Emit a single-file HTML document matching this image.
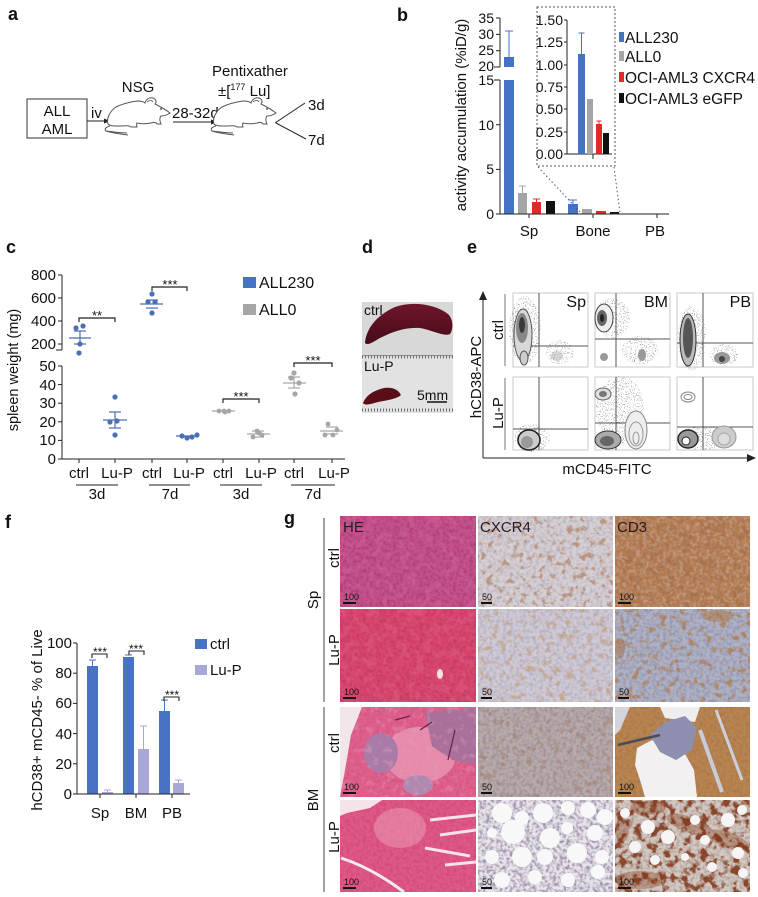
<!DOCTYPE html>
<html><head><meta charset="utf-8"><style>
html,body{margin:0;padding:0;background:#fff;}
svg{display:block;font-family:"Liberation Sans",Arial,sans-serif;}
</style></head><body>
<svg width="758" height="897" viewBox="0 0 758 897" xmlns="http://www.w3.org/2000/svg">
<defs>
<filter id="fine" color-interpolation-filters="sRGB" x="0" y="0" width="1" height="1">
<feTurbulence type="fractalNoise" baseFrequency="0.3" numOctaves="2" seed="3" result="n"/>
<feColorMatrix in="n" type="matrix" values="0 0 0 0 0 0 0 0 0 0 0 0 0 0 0 3 0 0 0 -1.2" result="m"/>
<feComposite in="SourceGraphic" in2="m" operator="in"/>
</filter>
<filter id="spots" color-interpolation-filters="sRGB" x="0" y="0" width="1" height="1">
<feTurbulence type="fractalNoise" baseFrequency="0.15" numOctaves="3" seed="7" result="n"/>
<feColorMatrix in="n" type="matrix" values="0 0 0 0 0 0 0 0 0 0 0 0 0 0 0 6 0 0 0 -3.3" result="m"/>
<feComposite in="SourceGraphic" in2="m" operator="in"/>
</filter>
<filter id="spots2" color-interpolation-filters="sRGB" x="0" y="0" width="1" height="1">
<feTurbulence type="fractalNoise" baseFrequency="0.12" numOctaves="3" seed="21" result="n"/>
<feColorMatrix in="n" type="matrix" values="0 0 0 0 0 0 0 0 0 0 0 0 0 0 0 6 0 0 0 -2.9" result="m"/>
<feComposite in="SourceGraphic" in2="m" operator="in"/>
</filter>
<filter id="dots" color-interpolation-filters="sRGB" x="0" y="0" width="1" height="1">
<feTurbulence type="fractalNoise" baseFrequency="0.9" numOctaves="1" seed="5" result="n"/>
<feColorMatrix in="n" type="matrix" values="0 0 0 0 0 0 0 0 0 0 0 0 0 0 0 12 0 0 0 -7" result="m"/>
<feComposite in="SourceGraphic" in2="m" operator="in"/>
</filter>
<clipPath id="c13"><rect x="340" y="707" width="136" height="90"/></clipPath>
<clipPath id="c33"><rect x="615" y="707" width="135" height="90"/></clipPath>
<clipPath id="c14"><rect x="340" y="800" width="136" height="92"/></clipPath>
<clipPath id="c24"><rect x="478" y="800" width="135" height="92"/></clipPath>
<clipPath id="c34"><rect x="615" y="800" width="135" height="92"/></clipPath>
<clipPath id="c32"><rect x="615" y="609" width="135" height="93"/></clipPath>
<linearGradient id="spl" x1="0" y1="0" x2="0" y2="1"><stop offset="0" stop-color="#6e1629"/><stop offset="1" stop-color="#470a19"/></linearGradient>
<g id="mouse">
<path d="M4,27 C2,22 6,14 12,10 C18,7 26,5 33,4 C37,4 40,5 41,6 C42,2 46,0 49,1 C52,2 53,5 51,7 C55,9 61,12 66,16 C63,18 60,19 57,19 C55,21 56,25 57,27 L53,27 C52,25 50,25 47,26 C42,27 37,27 33,26 C32,28 33,29 33,30 L27,30 C25,28 22,29 15,29 C9,29 6,29 4,27 Z" fill="#fff" stroke="#555" stroke-width="1"/>
<path d="M43,5 C45,3 48,3 49,5" fill="none" stroke="#555" stroke-width="0.8"/>
<circle cx="57" cy="12" r="0.9" fill="#333"/>
<path d="M6,29 C2,30 0,32 2,34 C8,36 16,37 24,38 M2,34 C10,35 16,36 23,36" fill="none" stroke="#555" stroke-width="1"/>
</g>
</defs>
<rect width="758" height="897" fill="#fff"/>

<!-- Panel letters -->
<g font-weight="bold" font-size="18" fill="#111">
<text x="8" y="20">a</text>
<text x="397" y="21">b</text>
<text x="6" y="253">c</text>
<text x="362" y="253">d</text>
<text x="467" y="253">e</text>
<text x="5" y="528">f</text>
<text x="284" y="524">g</text>
</g>

<!-- Panel a -->
<g font-size="15" fill="#111">
<rect x="27" y="99" width="60" height="39" fill="none" stroke="#333" stroke-width="1"/>
<text x="57" y="116" text-anchor="middle">ALL</text>
<text x="57" y="134" text-anchor="middle">AML</text>
<text x="91" y="118">iv</text>
<line x1="87" y1="121" x2="105" y2="121" stroke="#222" stroke-width="1"/>
<polygon points="110,121 104,118.5 104,123.5" fill="#222"/>
<use href="#mouse" x="104" y="97"/>
<text x="138" y="92" text-anchor="middle">NSG</text>
<text x="172" y="118">28-32d</text>
<line x1="173" y1="122" x2="212" y2="122" stroke="#222" stroke-width="1"/>
<polygon points="217,122 211,119.5 211,124.5" fill="#222"/>
<use href="#mouse" x="210" y="97"/>
<text x="250" y="76" text-anchor="middle">Pentixather</text>
<text x="218" y="96">±[<tspan font-size="9" dy="-6">177</tspan><tspan dy="6"> Lu]</tspan></text>
<line x1="275" y1="123" x2="305" y2="103" stroke="#222" stroke-width="1"/>
<line x1="276" y1="123" x2="306" y2="139" stroke="#222" stroke-width="1"/>
<text x="308" y="110">3d</text>
<text x="308" y="145">7d</text>
</g>

<!-- Panel b -->
<g font-size="14" fill="#111" stroke-width="1">
<line x1="500" y1="18" x2="500" y2="67" stroke="#222"/>
<line x1="500" y1="80" x2="500" y2="214" stroke="#222"/>
<g stroke="#222">
<line x1="496" y1="18" x2="500" y2="18"/><line x1="496" y1="34.4" x2="500" y2="34.4"/>
<line x1="496" y1="50.7" x2="500" y2="50.7"/><line x1="494" y1="67" x2="500" y2="67"/>
<line x1="494" y1="80" x2="500" y2="80"/><line x1="496" y1="124.7" x2="500" y2="124.7"/>
<line x1="496" y1="169.4" x2="500" y2="169.4"/><line x1="496" y1="214" x2="500" y2="214"/>
</g>
<g text-anchor="end">
<text x="494" y="23">35</text><text x="494" y="39">30</text><text x="494" y="55">25</text>
<text x="494" y="71">20</text><text x="494" y="85">15</text><text x="494" y="130">10</text>
<text x="494" y="174">5</text><text x="494" y="219">0</text>
</g>
<text transform="translate(466,115) rotate(-90)" text-anchor="middle" font-size="15">activity accumulation (%iD/g)</text>
<rect x="504" y="80" width="10" height="134" fill="#4472c4"/>
<rect x="504" y="57" width="10" height="10" fill="#4472c4"/>
<line x1="509" y1="57" x2="509" y2="31" stroke="#4472c4"/><line x1="505" y1="31" x2="513" y2="31" stroke="#4472c4"/>
<rect x="518" y="193" width="9" height="21" fill="#a5a5a5"/>
<line x1="522.5" y1="193" x2="522.5" y2="186" stroke="#a5a5a5"/><line x1="519" y1="186" x2="526" y2="186" stroke="#a5a5a5"/>
<rect x="532" y="202" width="9" height="12" fill="#e02a2a"/>
<line x1="536.5" y1="202" x2="536.5" y2="199" stroke="#e02a2a"/><line x1="533" y1="199" x2="540" y2="199" stroke="#e02a2a"/>
<rect x="546" y="201" width="9" height="13" fill="#111"/>
<rect x="568" y="204" width="10" height="10" fill="#4472c4"/>
<line x1="573" y1="204" x2="573" y2="200" stroke="#4472c4"/><line x1="569" y1="200" x2="577" y2="200" stroke="#4472c4"/>
<rect x="582" y="209" width="10" height="5" fill="#a5a5a5"/>
<rect x="596" y="211" width="10" height="3" fill="#e02a2a"/>
<rect x="610" y="212" width="9" height="2" fill="#111"/>
<line x1="500" y1="214" x2="669" y2="214" stroke="#222"/>
<g stroke="#222"><line x1="529" y1="214" x2="529" y2="218"/><line x1="593" y1="214" x2="593" y2="218"/><line x1="657" y1="214" x2="657" y2="218"/></g>
<g text-anchor="middle" font-size="15"><text x="529" y="236">Sp</text><text x="593" y="236">Bone</text><text x="655" y="236">PB</text></g>
<rect x="537" y="7" width="78" height="159" fill="none" stroke="#555" stroke-dasharray="2,2"/>
<line x1="538" y1="167" x2="581" y2="213" stroke="#555" stroke-dasharray="1.5,2.5"/>
<line x1="614" y1="167" x2="620" y2="213" stroke="#555" stroke-dasharray="1.5,2.5"/>
<line x1="567" y1="20" x2="567" y2="154" stroke="#222"/>
<g stroke="#222"><line x1="564" y1="20" x2="567" y2="20"/><line x1="564" y1="42" x2="567" y2="42"/><line x1="564" y1="65" x2="567" y2="65"/><line x1="564" y1="87" x2="567" y2="87"/><line x1="564" y1="109" x2="567" y2="109"/><line x1="564" y1="132" x2="567" y2="132"/><line x1="564" y1="154" x2="567" y2="154"/></g>
<g text-anchor="end" font-size="14">
<text x="563" y="25">1.50</text><text x="563" y="47">1.25</text><text x="563" y="70">1.00</text><text x="563" y="92">0.75</text><text x="563" y="114">0.50</text><text x="563" y="137">0.25</text><text x="563" y="159">0.00</text>
</g>
<line x1="567" y1="154" x2="612" y2="154" stroke="#222"/>
<line x1="593" y1="154" x2="593" y2="159" stroke="#222"/>
<rect x="578" y="54" width="7" height="100" fill="#4472c4"/>
<line x1="581.5" y1="54" x2="581.5" y2="33" stroke="#4472c4"/><line x1="578.5" y1="33" x2="584.5" y2="33" stroke="#4472c4"/>
<rect x="587" y="99" width="6" height="55" fill="#a5a5a5"/>
<rect x="596" y="124" width="6" height="30" fill="#e02a2a"/>
<line x1="599" y1="124" x2="599" y2="121" stroke="#e02a2a"/><line x1="596.5" y1="121" x2="601.5" y2="121" stroke="#e02a2a"/>
<rect x="603" y="133" width="6" height="21" fill="#111"/>
<rect x="619" y="32" width="5" height="10" fill="#4472c4"/>
<rect x="619" y="51" width="5" height="10" fill="#a5a5a5"/>
<rect x="619" y="72" width="5" height="10" fill="#e02a2a"/>
<rect x="619" y="93" width="5" height="10" fill="#111"/>
<g font-size="15.5">
<text x="625" y="43">ALL230</text><text x="625" y="62">ALL0</text><text x="625" y="83">OCI-AML3 CXCR4</text><text x="625" y="104">OCI-AML3 eGFP</text>
</g>
</g>

<!-- Panel c -->
<g font-size="15" fill="#111" stroke-width="1">
<line x1="62" y1="275" x2="62" y2="350" stroke="#222"/>
<line x1="56" y1="350" x2="62" y2="350" stroke="#222"/>
<line x1="62" y1="366" x2="62" y2="459" stroke="#222"/>
<g stroke="#222">
<line x1="58" y1="275" x2="62" y2="275"/><line x1="58" y1="298" x2="62" y2="298"/><line x1="58" y1="321" x2="62" y2="321"/><line x1="58" y1="344" x2="62" y2="344"/>
<line x1="58" y1="366" x2="62" y2="366"/><line x1="58" y1="384.6" x2="62" y2="384.6"/><line x1="58" y1="403.2" x2="62" y2="403.2"/><line x1="58" y1="421.8" x2="62" y2="421.8"/><line x1="58" y1="440.4" x2="62" y2="440.4"/><line x1="58" y1="459" x2="62" y2="459"/>
</g>
<g text-anchor="end">
<text x="56" y="280">800</text><text x="56" y="303">600</text><text x="56" y="326">400</text><text x="56" y="349">200</text>
<text x="56" y="371">50</text><text x="56" y="390">40</text><text x="56" y="408">30</text><text x="56" y="427">20</text><text x="56" y="445">10</text><text x="56" y="464">0</text>
</g>
<text transform="translate(18,370) rotate(-90)" text-anchor="middle" font-size="14.5">spleen weight (mg)</text>
<line x1="62" y1="459" x2="345" y2="459" stroke="#222"/>
<g stroke="#222">
<line x1="79" y1="459" x2="79" y2="463"/><line x1="115" y1="459" x2="115" y2="463"/><line x1="152" y1="459" x2="152" y2="463"/><line x1="187" y1="459" x2="187" y2="463"/>
<line x1="223" y1="459" x2="223" y2="463"/><line x1="259" y1="459" x2="259" y2="463"/><line x1="294" y1="459" x2="294" y2="463"/><line x1="332" y1="459" x2="332" y2="463"/>
</g>
<g text-anchor="middle">
<text x="79" y="478">ctrl</text><text x="117" y="478">Lu-P</text><text x="152" y="478">ctrl</text><text x="189" y="478">Lu-P</text>
<text x="223" y="478">ctrl</text><text x="261" y="478">Lu-P</text><text x="294" y="478">ctrl</text><text x="334" y="478">Lu-P</text>
<text x="97" y="499">3d</text><text x="170" y="499">7d</text><text x="241" y="499">3d</text><text x="313" y="499">7d</text>
</g>
<g stroke="#222"><line x1="76" y1="485" x2="118" y2="485"/><line x1="149" y1="485" x2="190" y2="485"/><line x1="220" y1="485" x2="262" y2="485"/><line x1="291" y1="485" x2="335" y2="485"/></g>
<g fill="#4a6fb5" stroke="none">
<circle cx="76" cy="328" r="2.6"/><circle cx="83" cy="326" r="2.6"/><circle cx="80" cy="344" r="2.6"/><circle cx="79" cy="353" r="2.6"/>
<circle cx="115" cy="397" r="2.6"/><circle cx="110" cy="422" r="2.6"/><circle cx="117" cy="421" r="2.6"/><circle cx="115" cy="435" r="2.6"/>
<circle cx="152" cy="294" r="2.6"/><circle cx="148" cy="302" r="2.6"/><circle cx="155" cy="302" r="2.6"/><circle cx="152" cy="313" r="2.6"/>
<circle cx="182" cy="436" r="2.6"/><circle cx="187" cy="438" r="2.6"/><circle cx="192" cy="437" r="2.6"/><circle cx="197" cy="435" r="2.6"/>
</g>
<g stroke="#4a6fb5" stroke-width="1.2">
<line x1="69" y1="338" x2="91" y2="338"/><line x1="74" y1="331" x2="86" y2="331"/><line x1="74" y1="344" x2="86" y2="344"/><line x1="80" y1="331" x2="80" y2="344"/>
<line x1="103" y1="420" x2="127" y2="420"/><line x1="109" y1="412" x2="121" y2="412"/><line x1="109" y1="428" x2="121" y2="428"/><line x1="115" y1="412" x2="115" y2="428"/>
<line x1="140" y1="304" x2="163" y2="304"/><line x1="146" y1="300" x2="158" y2="300"/><line x1="146" y1="308" x2="158" y2="308"/>
<line x1="176" y1="436" x2="199" y2="436"/>
</g>
<g fill="#a6a6a6">
<circle cx="219" cy="411" r="2.4"/><circle cx="224" cy="411" r="2.4"/><circle cx="229" cy="411" r="2.4"/><circle cx="225" cy="412" r="2.4"/>
<circle cx="257" cy="431" r="2.4"/><circle cx="253" cy="437" r="2.4"/><circle cx="262" cy="435" r="2.4"/><circle cx="259" cy="433" r="2.4"/>
<circle cx="294" cy="373" r="2.6"/><circle cx="291" cy="378" r="2.6"/><circle cx="299" cy="383" r="2.6"/><circle cx="295" cy="394" r="2.6"/>
<circle cx="328" cy="424" r="2.4"/><circle cx="325" cy="435" r="2.4"/><circle cx="333" cy="435" r="2.4"/><circle cx="337" cy="430" r="2.4"/>
</g>
<g stroke="#a6a6a6" stroke-width="1.2">
<line x1="212" y1="411" x2="235" y2="411"/>
<line x1="247" y1="434" x2="270" y2="434"/><line x1="252" y1="431" x2="264" y2="431"/><line x1="252" y1="437" x2="264" y2="437"/>
<line x1="283" y1="383" x2="306" y2="383"/><line x1="288" y1="377" x2="300" y2="377"/><line x1="288" y1="388" x2="300" y2="388"/><line x1="294" y1="377" x2="294" y2="388"/>
<line x1="320" y1="431" x2="343" y2="431"/><line x1="326" y1="427" x2="338" y2="427"/><line x1="326" y1="434" x2="338" y2="434"/>
</g>
<g fill="none" stroke="#222" stroke-width="1.2">
<polyline points="79,322 79,318 115,318 115,322"/>
<polyline points="152,291 152,287 187,287 187,291"/>
<polyline points="223,403 223,399 259,399 259,403"/>
<polyline points="294,367 294,363 332,363 332,367"/>
</g>
<g font-size="13" text-anchor="middle">
<text x="97" y="320">**</text><text x="170" y="289">***</text><text x="241" y="401">***</text><text x="313" y="365">***</text>
</g>
<rect x="243" y="277" width="13" height="11" fill="#4472c4"/>
<rect x="243" y="304" width="13" height="11" fill="#a6a6a6"/>
<g font-size="16"><text x="259" y="288">ALL230</text><text x="259" y="315">ALL0</text></g>
</g>

<!-- Panel d photo -->
<rect x="362" y="302" width="91" height="111" fill="#e2e2e2"/>
<rect x="362" y="302" width="91" height="55" fill="#d8d8d8"/>
<line x1="362" y1="357" x2="453" y2="357" stroke="#6e6e6e" stroke-width="3" stroke-dasharray="1,2"/>
<line x1="362" y1="355.5" x2="453" y2="355.5" stroke="#8a8a8a" stroke-width="1"/>
<line x1="362" y1="410" x2="453" y2="410" stroke="#6e6e6e" stroke-width="3" stroke-dasharray="1,2"/>
<path d="M365,343 C366,330 375,316 395,307 C412,301 435,304 448,314 C454,320 453,330 450,334 C444,337 432,330 420,328 C405,327 392,332 380,338 C373,342 368,346 365,343 Z" fill="url(#spl)"/>
<path d="M363,403 C366,396 372,391 384,388 C392,387 398,389 401,395 C397,399 388,400 378,402 C371,404 365,406 363,403 Z" fill="#5a0e18"/>
<text x="364" y="315" font-size="14" fill="#111">ctrl</text>
<text x="364" y="371" font-size="14" fill="#111">Lu-P</text>
<text x="417" y="400" font-size="14" fill="#111">5mm</text>
<line x1="427" y1="402" x2="447" y2="402" stroke="#111" stroke-width="1.5"/>

<!-- Panel e flow -->
<g stroke-width="1">
<line x1="483" y1="458" x2="483" y2="299" stroke="#222"/>
<polygon points="483,291 479,300 487,300" fill="#222"/>
<line x1="483" y1="458" x2="748" y2="458" stroke="#222"/>
<polygon points="756,458 747,454 747,462" fill="#222"/>
<text transform="translate(481,377) rotate(-90)" text-anchor="middle" font-size="15" fill="#111">hCD38-APC</text>
<text x="607" y="474" text-anchor="middle" font-size="15" fill="#111">mCD45-FITC</text>
<text transform="translate(503,330) rotate(-90)" text-anchor="middle" font-size="15" fill="#111">ctrl</text>
<text transform="translate(503,413) rotate(-90)" text-anchor="middle" font-size="15" fill="#111">Lu-P</text>
<line x1="505" y1="294" x2="505" y2="366" stroke="#777"/>
<line x1="505" y1="378" x2="505" y2="450" stroke="#777"/>
<g fill="#fff" stroke="#c8c8c8">
<rect x="513" y="293" width="75" height="74"/><rect x="595" y="293" width="75" height="74"/><rect x="677" y="293" width="76" height="74"/>
<rect x="513" y="377" width="75" height="73"/><rect x="595" y="377" width="75" height="73"/><rect x="677" y="377" width="76" height="73"/>
</g>
<g fill="#555" filter="url(#dots)" opacity="0.55">
<ellipse cx="525" cy="330" rx="16" ry="34"/>
<ellipse cx="560" cy="352" rx="14" ry="12"/>
<ellipse cx="612" cy="318" rx="18" ry="20"/>
<ellipse cx="640" cy="350" rx="18" ry="14"/>
<ellipse cx="692" cy="338" rx="14" ry="32"/>
<ellipse cx="724" cy="355" rx="14" ry="11"/>
<ellipse cx="532" cy="438" rx="18" ry="14"/>
<ellipse cx="620" cy="410" rx="24" ry="34"/>
<ellipse cx="705" cy="438" rx="26" ry="12"/>
</g>
<g stroke="#555" stroke-width="1">
<line x1="539" y1="293" x2="539" y2="367"/><line x1="513" y1="346" x2="588" y2="346"/>
<line x1="616" y1="293" x2="616" y2="367"/><line x1="595" y1="339" x2="670" y2="339"/>
<line x1="703" y1="293" x2="703" y2="367"/><line x1="677" y1="343" x2="753" y2="343"/>
<line x1="539" y1="377" x2="539" y2="450"/><line x1="513" y1="429" x2="588" y2="429"/>
<line x1="616" y1="377" x2="616" y2="450"/><line x1="595" y1="423" x2="670" y2="423"/>
<line x1="703" y1="377" x2="703" y2="450"/><line x1="677" y1="427" x2="753" y2="427"/>
</g>
<ellipse cx="523" cy="335" rx="9" ry="26" fill="#d8d8d8" stroke="#555"/>
<ellipse cx="522" cy="328" rx="6" ry="15" fill="#888"/>
<ellipse cx="522" cy="325" rx="3" ry="8" fill="#3a3a3a"/>
<ellipse cx="524" cy="358" rx="4" ry="7" fill="#ccc" stroke="#555"/>
<ellipse cx="557" cy="356" rx="6" ry="5" fill="#bbb" opacity="0.6"/>
<ellipse cx="604" cy="318" rx="9" ry="14" fill="#eee" stroke="#444"/>
<ellipse cx="602" cy="318" rx="5" ry="8" fill="#666"/>
<ellipse cx="602" cy="318" rx="2" ry="4" fill="#222"/>
<ellipse cx="604" cy="357" rx="4" ry="4" fill="#999"/>
<ellipse cx="642" cy="355" rx="4" ry="6" fill="#999"/>
<ellipse cx="688" cy="340" rx="8" ry="26" fill="#bbb" stroke="#333"/>
<ellipse cx="688" cy="338" rx="5" ry="20" fill="#555"/>
<ellipse cx="722" cy="358" rx="8" ry="6" fill="#999"/>
<ellipse cx="722" cy="359" rx="3" ry="3" fill="#444"/>
<ellipse cx="529" cy="440" rx="11" ry="10" fill="#ccc" stroke="#222" stroke-width="1.6"/>
<ellipse cx="527" cy="442" rx="6" ry="6" fill="#999"/>
<ellipse cx="603" cy="394" rx="8" ry="6" fill="#ddd" stroke="#666"/>
<ellipse cx="603" cy="394" rx="4" ry="3" fill="#777"/>
<ellipse cx="608" cy="440" rx="13" ry="9" fill="#aaa" stroke="#333"/>
<ellipse cx="607" cy="441" rx="7" ry="5" fill="#666"/>
<ellipse cx="636" cy="430" rx="11" ry="19" fill="#eee" stroke="#888"/>
<ellipse cx="636" cy="434" rx="7" ry="12" fill="none" stroke="#999"/>
<ellipse cx="636" cy="438" rx="3" ry="6" fill="none" stroke="#999"/>
<ellipse cx="688" cy="397" rx="7" ry="5" fill="none" stroke="#888"/>
<ellipse cx="688" cy="397" rx="4" ry="2.5" fill="none" stroke="#888"/>
<ellipse cx="688" cy="439" rx="10" ry="9" fill="#999" stroke="#222" stroke-width="1.4"/>
<ellipse cx="686" cy="441" rx="4" ry="4" fill="#fff" stroke="#222"/>
<ellipse cx="724" cy="437" rx="12" ry="11" fill="#ccc" stroke="#999"/>
<ellipse cx="724" cy="439" rx="6" ry="6" fill="#ddd" stroke="#aaa"/>
<g font-size="16" fill="#111" text-anchor="end">
<text x="586" y="307">Sp</text><text x="668" y="307">BM</text><text x="751" y="307">PB</text>
</g>
</g>

<!-- Panel f -->
<g font-size="15" fill="#111" stroke-width="1">
<line x1="77" y1="643" x2="77" y2="794" stroke="#222"/>
<g stroke="#222">
<line x1="73" y1="643" x2="77" y2="643"/><line x1="73" y1="673.2" x2="77" y2="673.2"/><line x1="73" y1="703.4" x2="77" y2="703.4"/><line x1="73" y1="733.6" x2="77" y2="733.6"/><line x1="73" y1="763.8" x2="77" y2="763.8"/><line x1="73" y1="794" x2="77" y2="794"/>
</g>
<g text-anchor="end">
<text x="72" y="648">100</text><text x="72" y="678">80</text><text x="72" y="708">60</text><text x="72" y="739">40</text><text x="72" y="769">20</text><text x="72" y="799">0</text>
</g>
<text transform="translate(42,720) rotate(-90)" text-anchor="middle">hCD38+ mCD45- % of Live</text>
<rect x="87" y="666" width="11" height="128" fill="#4a72c4"/>
<line x1="92.5" y1="666" x2="92.5" y2="660" stroke="#4a72c4"/><line x1="89" y1="660" x2="96" y2="660" stroke="#4a72c4"/>
<rect x="102" y="792" width="11" height="2" fill="#a9a6d8"/>
<line x1="107.5" y1="792" x2="107.5" y2="790" stroke="#a9a6d8"/><line x1="104" y1="790" x2="111" y2="790" stroke="#a9a6d8"/>
<rect x="123" y="657" width="11" height="137" fill="#4a72c4"/>
<line x1="125" y1="655" x2="132" y2="655" stroke="#4a72c4"/>
<rect x="138" y="749" width="11" height="45" fill="#a9a6d8"/>
<line x1="143.5" y1="749" x2="143.5" y2="726" stroke="#a9a6d8"/><line x1="140" y1="726" x2="147" y2="726" stroke="#a9a6d8"/>
<rect x="159" y="711" width="11" height="83" fill="#4a72c4"/>
<line x1="164.5" y1="711" x2="164.5" y2="700" stroke="#4a72c4"/><line x1="161" y1="700" x2="168" y2="700" stroke="#4a72c4"/>
<rect x="173" y="783" width="11" height="11" fill="#a9a6d8"/>
<line x1="178.5" y1="783" x2="178.5" y2="780" stroke="#a9a6d8"/><line x1="175" y1="780" x2="182" y2="780" stroke="#a9a6d8"/>
<line x1="77" y1="794" x2="190" y2="794" stroke="#222"/>
<g stroke="#222"><line x1="100" y1="794" x2="100" y2="798"/><line x1="136" y1="794" x2="136" y2="798"/><line x1="172" y1="794" x2="172" y2="798"/></g>
<g text-anchor="middle"><text x="100" y="818">Sp</text><text x="136" y="818">BM</text><text x="172" y="818">PB</text></g>
<g fill="none" stroke="#222" stroke-width="1.1">
<polyline points="92,658 92,654 107,654 107,658"/>
<polyline points="129,655 129,651 144,651 144,655"/>
<polyline points="164,701 164,697 179,697 179,701"/>
</g>
<g font-size="12" text-anchor="middle"><text x="100" y="656">***</text><text x="136" y="653">***</text><text x="172" y="699">***</text></g>
<rect x="195" y="639" width="12" height="10" fill="#4a72c4"/>
<rect x="195" y="665" width="12" height="10" fill="#a9a6d8"/>
<text x="210" y="649">ctrl</text><text x="210" y="675">Lu-P</text>
</g>

<!-- Panel g labels -->
<g font-size="15" fill="#111">
<text transform="translate(318,600) rotate(-90)" text-anchor="middle">Sp</text>
<text transform="translate(318,800) rotate(-90)" text-anchor="middle">BM</text>
<text transform="translate(339,558) rotate(-90)" text-anchor="middle">ctrl</text>
<text transform="translate(339,650) rotate(-90)" text-anchor="middle">Lu-P</text>
<text transform="translate(339,743) rotate(-90)" text-anchor="middle">ctrl</text>
<text transform="translate(339,837) rotate(-90)" text-anchor="middle">Lu-P</text>
</g>
<line x1="324" y1="518" x2="324" y2="702" stroke="#444" stroke-width="1"/>
<line x1="324" y1="707" x2="324" y2="892" stroke="#444" stroke-width="1"/>

<!-- Row 1 -->
<rect x="340" y="516" width="136" height="91" fill="#c5508a"/>
<rect x="340" y="516" width="136" height="91" fill="#8e2f6a" filter="url(#fine)" opacity="0.45"/>
<rect x="340" y="516" width="136" height="91" fill="#d874a2" filter="url(#spots2)" opacity="0.3"/>
<rect x="478" y="516" width="135" height="91" fill="#d6d0d4"/>
<rect x="478" y="516" width="135" height="91" fill="#a6a2b6" filter="url(#fine)" opacity="0.5"/>
<rect x="478" y="516" width="135" height="91" fill="#b48466" filter="url(#spots)" opacity="0.75"/>
<rect x="615" y="516" width="135" height="91" fill="#b27a50"/>
<rect x="615" y="516" width="135" height="91" fill="#cfc0bc" filter="url(#fine)" opacity="0.45"/>
<rect x="615" y="516" width="135" height="91" fill="#9a603a" filter="url(#spots2)" opacity="0.35"/>
<!-- Row 2 -->
<rect x="340" y="609" width="136" height="93" fill="#d8466f"/>
<rect x="340" y="609" width="136" height="93" fill="#b02e58" filter="url(#fine)" opacity="0.45"/>
<rect x="340" y="609" width="136" height="93" fill="#e8789a" filter="url(#spots2)" opacity="0.25"/>
<ellipse cx="440" cy="674" rx="3" ry="5" fill="#f6e0e6"/>
<rect x="478" y="609" width="135" height="93" fill="#d0cad4"/>
<rect x="478" y="609" width="135" height="93" fill="#a4a2bc" filter="url(#fine)" opacity="0.55"/>
<rect x="478" y="609" width="135" height="93" fill="#c39a72" filter="url(#spots)" opacity="0.6"/>
<g clip-path="url(#c32)">
<rect x="615" y="609" width="135" height="93" fill="#afb1c4"/>
<rect x="615" y="609" width="135" height="93" fill="#868aa8" filter="url(#fine)" opacity="0.6"/>
<rect x="615" y="609" width="135" height="93" fill="#b07844" filter="url(#spots)" opacity="0.7"/>
<ellipse cx="718" cy="616" rx="16" ry="6" fill="#b07844" opacity="0.5"/>
<ellipse cx="620" cy="648" rx="5" ry="10" fill="#a86e3c" opacity="0.5"/>
</g>
<!-- Row 3 -->
<g clip-path="url(#c13)">
<rect x="340" y="707" width="136" height="90" fill="#e0608c"/>
<rect x="340" y="707" width="136" height="90" fill="#c04878" filter="url(#fine)" opacity="0.4"/>
<ellipse cx="420" cy="755" rx="36" ry="28" fill="#eaa0ba" opacity="0.7"/>
<ellipse cx="381" cy="753" rx="17" ry="20" fill="#a87ba8"/>
<ellipse cx="418" cy="785" rx="15" ry="10" fill="#b088b0"/>
<polygon points="425,712 476,708 476,765 452,760 432,746" fill="#a8709a"/>
<rect x="340" y="707" width="136" height="90" fill="#e8a0c0" filter="url(#spots)" opacity="0.35"/>
<polygon points="340,707 362,707 351,735 345,770 340,797" fill="#f2e6ea"/>
<path d="M420,730 L432,722 M455,730 L448,760 M395,720 L410,716" stroke="#6a2050" stroke-width="1.2"/>
</g>
<rect x="478" y="707" width="135" height="90" fill="#b9abab"/>
<rect x="478" y="707" width="135" height="90" fill="#8c8290" filter="url(#fine)" opacity="0.55"/>
<rect x="478" y="707" width="135" height="90" fill="#9a6a50" filter="url(#spots)" opacity="0.35"/>
<g clip-path="url(#c33)">
<rect x="615" y="707" width="135" height="90" fill="#b88552"/>
<rect x="615" y="707" width="135" height="90" fill="#9c6a3c" filter="url(#fine)" opacity="0.45"/>
<polygon points="637,748 652,740 668,748 684,752 694,770 697,797 645,797 640,780 635,765" fill="#f2f0f0"/>
<polygon points="660,707 700,707 695,722 665,718" fill="#eeeef0"/>
<polygon points="615,707 630,707 620,730 615,735" fill="#d4d4dc"/>
<polygon points="650,735 665,722 685,716 697,728 692,750 676,760 660,752" fill="#8e8eae"/>
<line x1="618" y1="745" x2="660" y2="735" stroke="#4a4a5a" stroke-width="2.5"/>
<line x1="700" y1="730" x2="722" y2="792" stroke="#c8ccd8" stroke-width="4"/>
<line x1="716" y1="710" x2="742" y2="780" stroke="#ccd0dc" stroke-width="3"/>
</g>
<!-- Row 4 -->
<g clip-path="url(#c14)">
<rect x="340" y="800" width="136" height="92" fill="#df5888"/>
<rect x="340" y="800" width="136" height="92" fill="#c03a6c" filter="url(#fine)" opacity="0.4"/>
<ellipse cx="400" cy="828" rx="26" ry="20" fill="#eb9ab5" opacity="0.55"/>
<polygon points="340,800 382,800 370,808 347,813 340,816" fill="#f4e4ea"/>
<path d="M341,858 Q372,868 404,892" stroke="#f6eaee" stroke-width="3" fill="none"/>
<path d="M430,820 L476,815 M440,835 L476,830 M425,848 L470,856 M445,865 L476,862" stroke="#f6e2ea" stroke-width="3" fill="none"/>
</g>
<g clip-path="url(#c24)">
<rect x="478" y="800" width="135" height="92" fill="#e8e4ea"/>
<rect x="478" y="800" width="135" height="92" fill="#8e829e" filter="url(#fine)" opacity="0.8"/>
<g fill="#f8f8f8">
<circle cx="502" cy="813" r="10"/><circle cx="522" cy="818" r="7"/><circle cx="543" cy="813" r="10"/><circle cx="568" cy="808" r="7"/><circle cx="588" cy="810" r="8"/><circle cx="605" cy="817" r="8"/>
<circle cx="492" cy="833" r="5"/><circle cx="513" cy="832" r="12"/><circle cx="550" cy="838" r="10"/><circle cx="567" cy="828" r="6"/><circle cx="595" cy="833" r="8"/>
<circle cx="492" cy="857" r="7"/><circle cx="522" cy="857" r="10"/><circle cx="545" cy="857" r="8"/><circle cx="577" cy="853" r="10"/><circle cx="602" cy="857" r="7"/>
<circle cx="502" cy="880" r="8"/><circle cx="535" cy="877" r="7"/><circle cx="568" cy="880" r="7"/><circle cx="598" cy="872" r="7"/>
</g>
</g>
<g clip-path="url(#c34)">
<rect x="615" y="800" width="135" height="92" fill="#d4cac4"/>
<rect x="615" y="800" width="135" height="92" fill="#a08e86" filter="url(#fine)" opacity="0.6"/>
<g fill="#8a3a18" opacity="0.35">
<ellipse cx="648" cy="808" rx="18" ry="7"/><ellipse cx="690" cy="825" rx="25" ry="8" transform="rotate(20 690 825)"/>
<ellipse cx="728" cy="840" rx="22" ry="8" transform="rotate(20 728 840)"/><ellipse cx="640" cy="880" rx="25" ry="9"/>
<ellipse cx="622" cy="830" rx="7" ry="12"/>
</g>
<rect x="615" y="800" width="135" height="92" fill="#7e3214" filter="url(#spots2)" opacity="0.85"/>
<g fill="#f6f4f4">
<circle cx="625" cy="813" r="5"/><circle cx="648" cy="827" r="7"/><circle cx="668" cy="837" r="7"/><circle cx="695" cy="820" r="5"/><circle cx="728" cy="820" r="7"/><circle cx="742" cy="810" r="5"/>
<circle cx="635" cy="847" r="6"/><circle cx="705" cy="840" r="5"/><circle cx="738" cy="853" r="6"/><circle cx="685" cy="857" r="4"/><circle cx="655" cy="860" r="5"/><circle cx="712" cy="867" r="5"/><circle cx="743" cy="873" r="5"/>
</g>
</g>

<!-- g tile labels -->
<g font-size="15" fill="#2a1a22">
<text x="343" y="532">HE</text><text x="480" y="532">CXCR4</text><text x="617" y="532">CD3</text>
</g>
<g font-size="9" fill="#111">
<text x="344" y="600">100</text><text x="482" y="600">50</text><text x="619" y="600">100</text>
<text x="344" y="695">100</text><text x="482" y="695">50</text><text x="619" y="695">50</text>
<text x="344" y="790">100</text><text x="482" y="790">50</text><text x="619" y="790">100</text>
<text x="344" y="885">100</text><text x="482" y="885">50</text><text x="619" y="885">100</text>
</g>
<g fill="#111">
<rect x="343" y="602" width="13" height="2"/><rect x="481" y="602" width="11" height="2"/><rect x="618" y="602" width="13" height="2"/>
<rect x="343" y="697" width="13" height="2"/><rect x="481" y="697" width="11" height="2"/><rect x="618" y="697" width="11" height="2"/>
<rect x="343" y="792" width="13" height="2"/><rect x="481" y="792" width="11" height="2"/><rect x="618" y="792" width="13" height="2"/>
<rect x="343" y="887" width="13" height="2"/><rect x="481" y="887" width="11" height="2"/><rect x="618" y="887" width="13" height="2"/>
</g>
</svg>
</body></html>
